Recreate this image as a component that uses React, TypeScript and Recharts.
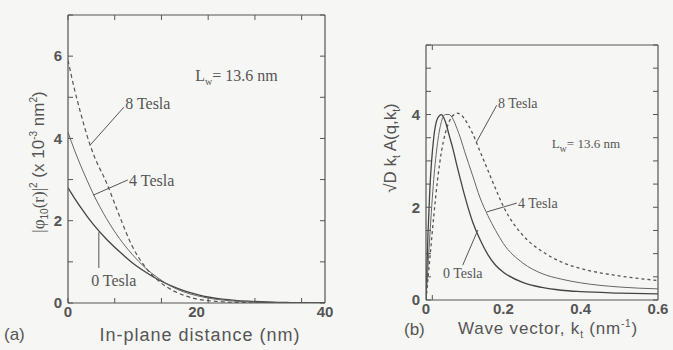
import React from 'react';
import { LineChart, Line, XAxis, YAxis, ReferenceLine, ReferenceDot } from 'recharts';

// (a) in-plane wavefunction |phi_10(r)|^2 (x 10^-3 nm^-2)
const R_NM = [0, 1, 2, 3, 4, 6, 8, 10, 12, 14, 16, 18, 20, 22, 24, 26, 28, 30, 32, 34, 36, 38, 40];
const PSI_0T = [2.8, 2.55, 2.32, 2.1, 1.9, 1.55, 1.25, 0.98, 0.76, 0.57, 0.42, 0.3, 0.21, 0.14, 0.095, 0.065, 0.045, 0.03, 0.02, 0.012, 0.007, 0.004, 0.002];
const PSI_4T = [4.15, 3.72, 3.33, 2.97, 2.63, 2.05, 1.57, 1.18, 0.86, 0.61, 0.41, 0.27, 0.18, 0.115, 0.072, 0.045, 0.028, 0.017, 0.01, 0.006, 0.003, 0.002, 0.001];
const PSI_8T = [5.9, 5.2, 4.6, 4.05, 3.6, 2.92, 2.12, 1.38, 0.88, 0.55, 0.33, 0.19, 0.1, 0.055, 0.03, 0.015, 0.007, 0.003, 0.001, 0, 0, 0, 0];

// (b) sqrt(D) k_t A(q, k_t)
const K_NM = [0, 0.005, 0.01, 0.02, 0.03, 0.04, 0.05, 0.06, 0.07, 0.08, 0.09, 0.1, 0.12, 0.14, 0.16, 0.18, 0.2, 0.25, 0.3, 0.35, 0.4, 0.5, 0.6];
const A_0T = [0, 1.4, 2.4, 3.5, 3.92, 4.0, 3.85, 3.55, 3.25, 2.9, 2.57, 2.25, 1.7, 1.3, 0.98, 0.75, 0.6, 0.38, 0.27, 0.21, 0.18, 0.15, 0.13];
const A_4T = [0, 0.7, 1.4, 2.6, 3.4, 3.85, 4.0, 4.0, 3.9, 3.7, 3.47, 3.2, 2.7, 2.2, 1.82, 1.5, 1.22, 0.8, 0.57, 0.45, 0.37, 0.28, 0.24];
const A_8T = [0, 0.45, 0.9, 1.8, 2.6, 3.2, 3.6, 3.85, 3.98, 4.03, 4.0, 3.9, 3.6, 3.2, 2.8, 2.4, 2.02, 1.4, 1.05, 0.82, 0.68, 0.52, 0.42];

const TICKS_R = [0, 4, 8, 12, 16, 20, 24, 28, 32, 36, 40];
const TICKS_PSI = [0, 1, 2, 3, 4, 5, 6, 7];
const TICKS_K = [0, 0.1, 0.2, 0.3, 0.4, 0.5, 0.6];
const TICKS_A = [0, 0.5, 1, 1.5, 2, 2.5, 3, 3.5, 4, 4.5, 5, 5.5];

const INK = '#555';
const SANS = '"Liberation Sans", Arial, sans-serif';
const SERIF = '"Liberation Serif", "Times New Roman", serif';

const dataA = R_NM.map((r, i) => ({ r, t0: PSI_0T[i], t4: PSI_4T[i], t8: PSI_8T[i] }));
const dataB = K_NM.map((k, i) => ({ k, t0: A_0T[i], t4: A_4T[i], t8: A_8T[i] }));

const xTick = (show: (v: number) => boolean, fmt: (v: number) => string) => (p: any) => {
  if (!show(p.payload.value)) return <g />;
  return (
    <text x={p.x} y={p.y} dy="0.71em" textAnchor="middle" fill={INK} fontFamily={SANS} fontSize={15} fontWeight="bold">
      {fmt(p.payload.value)}
    </text>
  );
};

const yTick = (show: (v: number) => boolean) => (p: any) => {
  if (!show(p.payload.value)) return <g />;
  return (
    <text x={p.x} y={p.y} dy="0.355em" textAnchor="end" fill={INK} fontFamily={SANS} fontSize={15} fontWeight="bold">
      {p.payload.value}
    </text>
  );
};

const noLabel = () => <g />;

// text note anchored at a data point (left edge, vertically centred)
const note = (children: React.ReactNode, size = 15) => (p: any) => {
  const vb = p.viewBox || {};
  const x = vb.x + (vb.width || 0) / 2;
  const y = vb.y + (vb.height || 0) / 2;
  return (
    <text x={x} y={y} dy="0.35em" textAnchor="start" fill={INK} fontFamily={SERIF} fontSize={size}>
      {children}
    </text>
  );
};

const Lw = (v: string) => (
  <>
    L<tspan dy={4} fontSize={10}>w</tspan>
    <tspan dy={-4}>{'= ' + v + ' nm'}</tspan>
  </>
);

const tickStyle = { stroke: INK, strokeWidth: 1 };

// box with inward ticks on all four sides, built from mirrored axes
const frame = (xDom: number[], xTicks: number[], yDom: number[], yTicks: number[]) => [
  <XAxis key="bm" xAxisId="bm" orientation="bottom" mirror type="number" domain={xDom} ticks={xTicks} allowDataOverflow
    tick={noLabel} tickLine={tickStyle} tickSize={5} height={1} stroke={INK} strokeWidth={1.2} />,
  <XAxis key="tm" xAxisId="tm" orientation="top" mirror type="number" domain={xDom} ticks={xTicks} allowDataOverflow
    tick={noLabel} tickLine={tickStyle} tickSize={5} height={1} stroke={INK} strokeWidth={1.2} />,
  <YAxis key="lm" yAxisId="lm" orientation="left" mirror type="number" domain={yDom} ticks={yTicks} allowDataOverflow
    tick={noLabel} tickLine={tickStyle} tickSize={5} width={1} stroke={INK} strokeWidth={1.2} />,
  <YAxis key="rm" yAxisId="rm" orientation="right" mirror type="number" domain={yDom} ticks={yTicks} allowDataOverflow
    tick={noLabel} tickLine={tickStyle} tickSize={5} width={1} stroke={INK} strokeWidth={1.2} />,
  <Line key="h1" xAxisId="bm" yAxisId="lm" dataKey="t0" stroke="none" dot={false} activeDot={false} isAnimationActive={false} />,
  <Line key="h2" xAxisId="tm" yAxisId="rm" dataKey="t0" stroke="none" dot={false} activeDot={false} isAnimationActive={false} />,
];

export default function App() {
  return (
    <div style={{ position: 'absolute', left: 0, top: 0, width: 673, height: 350, background: '#f6f6f4', overflow: 'hidden' }}>
      <div style={{ position: 'absolute', left: 0, top: 0 }}>
        <LineChart width={340} height={350} data={dataA} margin={{ top: 15, right: 15, bottom: 17, left: 0 }}>
          <XAxis dataKey="r" type="number" domain={[0, 40]} ticks={TICKS_R} allowDataOverflow
            tickLine={false} axisLine={false} tickSize={0} tickMargin={3} height={30}
            tick={xTick((v) => v % 20 === 0, (v) => String(v))} />
          <YAxis type="number" domain={[0, 7]} ticks={TICKS_PSI} allowDataOverflow
            tickLine={false} axisLine={false} tickSize={0} tickMargin={6} width={68}
            tick={yTick((v) => v % 2 === 0 && v < 7)} />
          {frame([0, 40], TICKS_R, [0, 7], TICKS_PSI)}
          <Line dataKey="t0" type="monotone" stroke="#444" strokeWidth={1.3} dot={false} isAnimationActive={false} />
          <Line dataKey="t4" type="monotone" stroke="#666" strokeWidth={1} dot={false} isAnimationActive={false} />
          <Line dataKey="t8" type="monotone" stroke="#555" strokeWidth={1.2} strokeDasharray="4 3" dot={false} isAnimationActive={false} />
          <ReferenceLine segment={[{ x: 3.4, y: 3.83 }, { x: 8.7, y: 4.76 }]} stroke={INK} />
          <ReferenceLine segment={[{ x: 3.9, y: 2.62 }, { x: 9.3, y: 2.99 }]} stroke={INK} />
          <ReferenceLine segment={[{ x: 4.8, y: 1.72 }, { x: 4.8, y: 0.85 }]} stroke={INK} />
          <ReferenceDot x={8.9} y={4.85} r={1} fill="none" stroke="none" label={note('8 Tesla', 16)} />
          <ReferenceDot x={9.5} y={2.99} r={1} fill="none" stroke="none" label={note('4 Tesla', 16)} />
          <ReferenceDot x={3.6} y={0.56} r={1} fill="none" stroke="none" label={note('0 Tesla', 16)} />
          <ReferenceDot x={19.8} y={5.53} r={1} fill="none" stroke="none" label={note(Lw('13.6'), 16)} />
        </LineChart>
      </div>
      <div style={{ position: 'absolute', left: 340, top: 0 }}>
        <LineChart width={333} height={350} data={dataB} margin={{ top: 45, right: 15, bottom: 20, left: 0 }}>
          <XAxis dataKey="k" type="number" domain={[0, 0.6]} ticks={TICKS_K} allowDataOverflow
            tickLine={false} axisLine={false} tickSize={0} tickMargin={3} height={30}
            tick={xTick((v) => Math.round(v * 10) % 2 === 0, (v) => (v === 0 ? '0' : v.toFixed(1)))} />
          <YAxis type="number" domain={[0, 5.5]} ticks={TICKS_A} allowDataOverflow
            tickLine={false} axisLine={false} tickSize={0} tickMargin={6} width={86}
            tick={yTick((v) => v % 2 === 0)} />
          {frame([0, 0.6], TICKS_K, [0, 5.5], TICKS_A)}
          <Line dataKey="t0" type="monotone" stroke="#444" strokeWidth={1.3} dot={false} isAnimationActive={false} />
          <Line dataKey="t4" type="monotone" stroke="#666" strokeWidth={1} dot={false} isAnimationActive={false} />
          <Line dataKey="t8" type="monotone" stroke="#555" strokeWidth={1.3} strokeDasharray="3 3" dot={false} isAnimationActive={false} />
          <ReferenceLine segment={[{ x: 0.13, y: 3.4 }, { x: 0.183, y: 4.2 }]} stroke={INK} />
          <ReferenceLine segment={[{ x: 0.157, y: 1.9 }, { x: 0.235, y: 2.09 }]} stroke={INK} />
          <ReferenceLine segment={[{ x: 0.095, y: 0.75 }, { x: 0.134, y: 1.51 }]} stroke={INK} />
          <ReferenceDot x={0.186} y={4.25} r={1} fill="none" stroke="none" label={note('8 Tesla', 14)} />
          <ReferenceDot x={0.238} y={2.1} r={1} fill="none" stroke="none" label={note('4 Tesla', 14)} />
          <ReferenceDot x={0.044} y={0.58} r={1} fill="none" stroke="none" label={note('0 Tesla', 14)} />
          <ReferenceDot x={0.325} y={3.38} r={1} fill="none" stroke="none" label={note(Lw('13.6'), 13)} />
        </LineChart>
      </div>
      <svg width={673} height={350} style={{ position: 'absolute', left: 0, top: 0, pointerEvents: 'none' }}>
        <g fill={INK} fontFamily={SANS} fontSize={17}>
          <text transform="translate(44,162) rotate(-90)" textAnchor="middle">
            <tspan fontFamily={SERIF}>|φ</tspan>
            <tspan dy={4} fontSize={10}>10</tspan>
            <tspan dy={-4} fontFamily={SERIF}>(r)|</tspan>
            <tspan dy={-7} fontSize={10}>2</tspan>
            <tspan dy={7}>{'   (x 10'}</tspan>
            <tspan dy={-7} fontSize={10}>-3</tspan>
            <tspan dy={7}> nm</tspan>
            <tspan dy={-7} fontSize={10}>2</tspan>
            <tspan dy={7}>)</tspan>
          </text>
          <text transform="translate(396,148) rotate(-90)" textAnchor="middle">
            √D k<tspan dy={4} fontSize={10}>t</tspan>
            <tspan dy={-4}> A(q,k</tspan>
            <tspan dy={4} fontSize={10}>t</tspan>
            <tspan dy={-4}>)</tspan>
          </text>
          <text x={200} y={341} textAnchor="middle" fontSize={18} letterSpacing={1}>In-plane  distance  (nm)</text>
          <text x={548} y={334} textAnchor="middle" fontSize={17} letterSpacing={0.8}>
            Wave  vector,  k<tspan dy={4} fontSize={10}>t</tspan>
            <tspan dy={-4}>  (nm</tspan>
            <tspan dy={-7} fontSize={10}>-1</tspan>
            <tspan dy={7}>)</tspan>
          </text>
          <text x={4} y={340} fontSize={17}>(a)</text>
          <text x={404} y={335} fontSize={17}>(b)</text>
        </g>
      </svg>
    </div>
  );
}
